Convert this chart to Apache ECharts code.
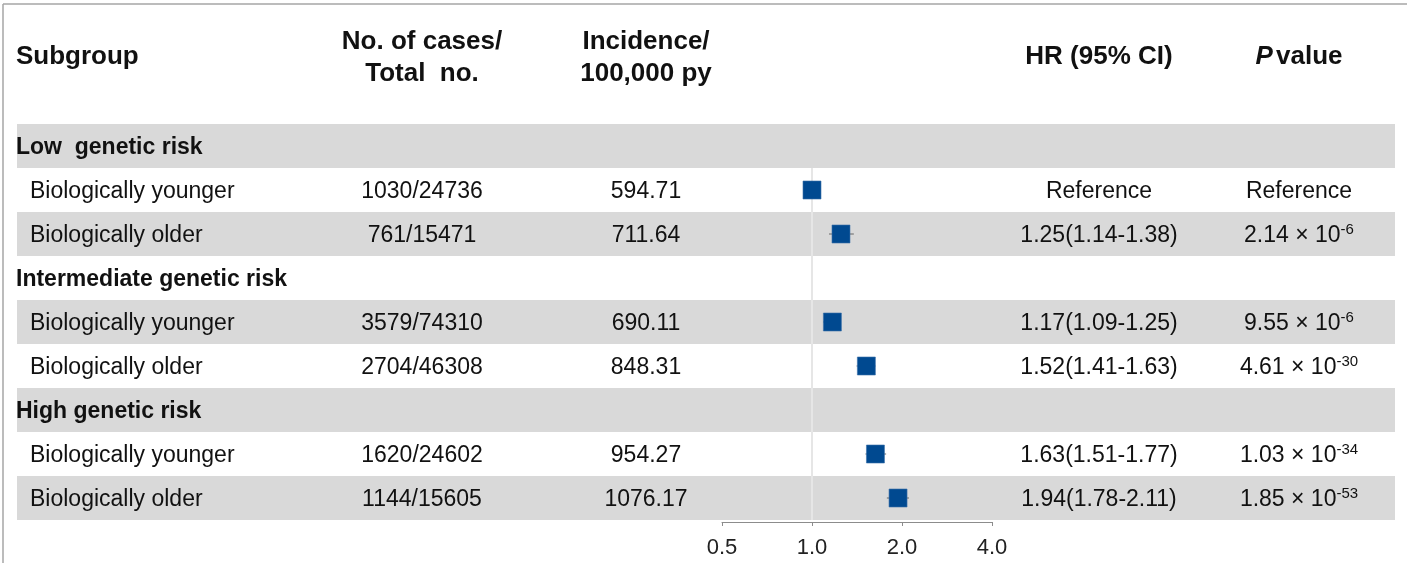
<!DOCTYPE html>
<html>
<head>
<meta charset="utf-8">
<script src="https://cdn.jsdelivr.net/npm/echarts@6/dist/echarts.min.js"></script>
<style>
  html, body { margin: 0; padding: 0; background: #fff; }
  #chart { width: 1407px; height: 563px; }
</style>
</head>
<body>
<div id="chart"></div>
<script>
// ---- data ----
const rows = ['Low  genetic risk', 'Biologically younger', 'Biologically older',
  'Intermediate genetic risk', 'Biologically younger', 'Biologically older',
  'High genetic risk', 'Biologically younger', 'Biologically older'];
const isGroup = [1, 0, 0, 1, 0, 0, 1, 0, 0];
const rowShaded = [1, 0, 1, 0, 1, 0, 1, 0, 1];
const cases = ['', '1030/24736', '761/15471', '', '3579/74310', '2704/46308', '', '1620/24602', '1144/15605'];
const incidence = ['', '594.71', '711.64', '', '690.11', '848.31', '', '954.27', '1076.17'];
const hr = [null, 1.00, 1.25, null, 1.17, 1.52, null, 1.63, 1.94];
const hrLow = [null, null, 1.14, null, 1.09, 1.41, null, 1.51, 1.78];
const hrHigh = [null, null, 1.38, null, 1.25, 1.63, null, 1.77, 2.11];
const hrText = ['', 'Reference', '1.25(1.14-1.38)', '', '1.17(1.09-1.25)', '1.52(1.41-1.63)', '', '1.63(1.51-1.77)', '1.94(1.78-2.11)'];
const pMantissa = ['', 'Reference', '2.14', '', '9.55', '4.61', '', '1.03', '1.85'];
const pExponent = ['', '', '-6', '', '-6', '-30', '', '-34', '-53'];
const xTicks = [0.5, 1, 2, 4];
const refValue = 1;

// ---- layout ----
const FONT = '"Liberation Sans", Arial, sans-serif';
const TXT = '#111111';
const COL = { group: 16, item: 30, cases: 422, inc: 646, hr: 1099, p: 1299 };
const TEXT_DY = 2;
const BAND = { left: 17, right: 1395, color: '#d9d9d9' };
const rowIdx = rows.map((_, i) => i);

const chart = echarts.init(document.getElementById('chart'), null, { renderer: 'canvas' });

function textEl(text, x, y, align, opts) {
  return {
    type: 'text',
    style: Object.assign({
      text: text, x: x, y: y, align: align, verticalAlign: 'middle',
      fontFamily: FONT, fontSize: 23, fontWeight: 'normal', fill: TXT
    }, opts || {})
  };
}

const option = {
  animation: false,
  backgroundColor: '#ffffff',
  grid: [
    { left: 722, width: 270, top: 124, height: 396 },
    { left: 0, right: 0, top: 124, height: 396 }
  ],
  xAxis: [
    {
      gridIndex: 0, type: 'log', logBase: 2, min: 0.5, max: 4, offset: 2,
      axisLine: { show: true, lineStyle: { color: '#8c8c8c', width: 1 } },
      axisTick: { show: true, length: 4, lineStyle: { color: '#8c8c8c' }, customValues: xTicks },
      axisLabel: {
        show: true, margin: 15, color: '#222', fontSize: 22, fontFamily: FONT,
        customValues: xTicks,
        formatter: v => (Math.round(v * 10) / 10).toFixed(1)
      },
      splitLine: { show: false }, minorTick: { show: false }
    },
    { gridIndex: 1, type: 'value', min: 0, max: 1407, show: false }
  ],
  yAxis: [
    { gridIndex: 0, type: 'category', data: rows, inverse: true, show: false },
    { gridIndex: 1, type: 'category', data: rows, inverse: true, show: false }
  ],
  graphic: [
    { type: 'line', shape: { x1: 3, y1: 4, x2: 1407, y2: 4 }, style: { stroke: '#a6a6a6', lineWidth: 1.5 } },
    { type: 'line', shape: { x1: 3, y1: 4, x2: 3, y2: 563 }, style: { stroke: '#a6a6a6', lineWidth: 1.5 } },
    { type: 'text', x: 16, y: 57, style: { text: 'Subgroup', font: 'bold 26px ' + FONT, fill: TXT, align: 'left', verticalAlign: 'middle' } },
    { type: 'text', x: 422, y: 58, style: { text: 'No. of cases/\nTotal  no.', font: 'bold 26px ' + FONT, fill: TXT, align: 'center', verticalAlign: 'middle', lineHeight: 32 } },
    { type: 'text', x: 646, y: 58, style: { text: 'Incidence/\n100,000 py', font: 'bold 26px ' + FONT, fill: TXT, align: 'center', verticalAlign: 'middle', lineHeight: 32 } },
    { type: 'text', x: 1099, y: 57, style: { text: 'HR (95% CI)', font: 'bold 26px ' + FONT, fill: TXT, align: 'center', verticalAlign: 'middle' } },
    { type: 'text', x: 1299, y: 57, style: {
        text: '{i|P} {b|value}', align: 'center', verticalAlign: 'middle', fill: TXT,
        rich: {
          i: { fontFamily: FONT, fontSize: 26, fontWeight: 'bold', fontStyle: 'italic', fill: TXT },
          b: { fontFamily: FONT, fontSize: 26, fontWeight: 'bold', fill: TXT }
        }
      } }
  ],
  series: [
    {
      // shaded row bands
      type: 'custom', xAxisIndex: 1, yAxisIndex: 1, z: 0, silent: true,
      data: rowIdx.filter(i => rowShaded[i]).map(i => [0, i]),
      renderItem: function (params, api) {
        const c = api.coord([0, api.value(1)]);
        const h = api.size([0, 1])[1];
        return { type: 'rect', shape: { x: BAND.left, y: c[1] - h / 2, width: BAND.right - BAND.left, height: h }, style: { fill: BAND.color } };
      }
    },
    {
      // table texts
      type: 'custom', xAxisIndex: 1, yAxisIndex: 1, z: 2, silent: true,
      data: rowIdx.map(i => [0, i]),
      renderItem: function (params, api) {
        const i = api.value(1);
        const y = api.coord([0, i])[1] + TEXT_DY;
        const children = [];
        if (isGroup[i]) {
          children.push(textEl(rows[i], COL.group, y, 'left', { fontWeight: 'bold' }));
        } else {
          children.push(textEl(rows[i], COL.item, y, 'left'));
          children.push(textEl(cases[i], COL.cases, y, 'center'));
          children.push(textEl(incidence[i], COL.inc, y, 'center'));
          children.push(textEl(hrText[i], COL.hr, y, 'center'));
          if (pExponent[i]) {
            children.push({
              type: 'text',
              style: {
                text: '{m|' + pMantissa[i] + ' × 10}{s|' + pExponent[i] + '}',
                x: COL.p, y: y, align: 'center', verticalAlign: 'middle', fill: TXT,
                rich: {
                  m: { fontFamily: FONT, fontSize: 23, lineHeight: 27, fill: TXT },
                  s: { fontFamily: FONT, fontSize: 15, lineHeight: 15, verticalAlign: 'top', fill: TXT }
                }
              }
            });
          } else {
            children.push(textEl(pMantissa[i], COL.p, y, 'center'));
          }
        }
        return { type: 'group', children: children };
      }
    },
    {
      // reference line at HR = 1
      type: 'custom', xAxisIndex: 0, yAxisIndex: 0, z: 3, silent: true,
      data: [[refValue, 1, rows.length - 1]],
      renderItem: function (params, api) {
        const h = api.size([0, 1])[1];
        const a = api.coord([api.value(0), api.value(1)]);
        const b = api.coord([api.value(0), api.value(2)]);
        return { type: 'line', shape: { x1: a[0], y1: a[1] - h / 2, x2: b[0], y2: b[1] + h / 2 }, style: { stroke: '#e6e6e6', lineWidth: 2 } };
      }
    },
    {
      // HR markers with CI whiskers
      type: 'custom', xAxisIndex: 0, yAxisIndex: 0, z: 4, silent: true,
      data: rowIdx.filter(i => hr[i] != null).map(i => [hr[i], i, hrLow[i] == null ? hr[i] : hrLow[i], hrHigh[i] == null ? hr[i] : hrHigh[i]]),
      renderItem: function (params, api) {
        const row = api.value(1);
        const p = api.coord([api.value(0), row]);
        const lo = api.coord([api.value(2), row]);
        const hi = api.coord([api.value(3), row]);
        const s = 18;
        return {
          type: 'group',
          children: [
            { type: 'line', shape: { x1: lo[0], y1: p[1], x2: hi[0], y2: p[1] }, style: { stroke: '#666666', lineWidth: 1 } },
            { type: 'rect', shape: { x: p[0] - s / 2, y: p[1] - s / 2, width: s, height: s }, style: { fill: '#004990', stroke: '#3a70aa', lineWidth: 0.6 } }
          ]
        };
      }
    }
  ]
};

chart.setOption(option);
</script>
</body>
</html>
